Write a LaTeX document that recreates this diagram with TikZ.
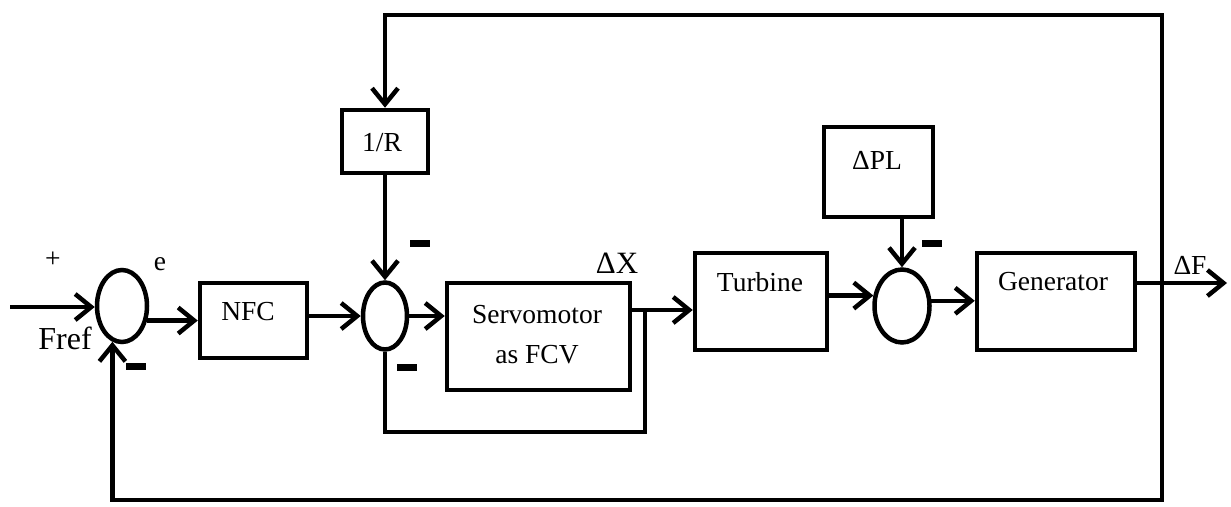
\documentclass[tikz,border=0pt]{standalone}
\usepackage{fontspec}
\setmainfont{Liberation Serif}
\usetikzlibrary{arrows.meta,shapes.geometric}
\begin{document}
\begin{tikzpicture}[x=1pt,y=1pt,
  line width=4.5pt,
  arr/.style={-{Straight Barb[length=16pt,width=26pt]}},
  blk/.style={draw,rectangle,inner sep=0pt},
  sumj/.style={draw,ellipse,inner sep=0pt},
  txt/.style={font=\fontsize{27.5}{40}\selectfont,inner sep=0pt},
  bar/.style={fill,rectangle,minimum width=20pt,minimum height=7pt,inner sep=0pt,draw=none}]
\useasboundingbox (0,0) rectangle (1231,-506);
% blocks
\node[sumj,minimum width=50pt,minimum height=72pt] (s1) at (122,-306) {};
\node[blk,minimum width=107pt,minimum height=75pt] (nfc) at (253.5,-320.5) {};
\node[txt] (nfct) at (248,-312) {NFC};
\node[sumj,minimum width=44pt,minimum height=67pt] (s2) at (385,-316) {};
\node[blk,minimum width=86pt,minimum height=63pt] (rb) at (385,-141.5) {};
\node[txt] (rbt) at (382,-143) {1/R};
\node[blk,minimum width=183pt,minimum height=107pt] (servo) at (538.5,-336.5) {};
\node[txt,align=center] (servot) at (537,-335) {Servomotor\\as FCV};
\node[blk,minimum width=132pt,minimum height=97pt] (turb) at (761,-301.5) {};
\node[txt] (turbt) at (760,-282) {Turbine};
\node[sumj,minimum width=55pt,minimum height=73pt] (s3) at (902,-306) {};
\node[blk,minimum width=109pt,minimum height=90pt] (pl) at (878.5,-172) {};
\node[txt] (plt) at (877,-160) {ΔPL};
\node[blk,minimum width=158pt,minimum height=97pt] (gen) at (1056,-301.5) {};
\node[txt] (gent) at (1053,-282) {Generator};
% labels
\node[txt] (plus) at (53,-260) {+};
\node[txt] (elab) at (160,-264) {e};
\node[txt,font=\fontsize{32}{36}\selectfont] (fref) at (65,-338) {Fref};
\node[txt,font=\fontsize{31}{36}\selectfont] (dx) at (617,-263) {ΔX};
\node[txt] (df) at (1190,-265) {ΔF};
% minus bars
\node[bar] (m1) at (136,-366) {};
\node[bar] (m2) at (420,-243) {};
\node[bar] (m3) at (407,-367) {};
\node[bar] (m4) at (932,-243) {};
% coordinates
\coordinate (in) at (10,-307);
\coordinate (jout) at (1162,-283);
\coordinate (outend) at (1227,-283);
\coordinate (tr) at (1162,-15);
\coordinate (br) at (1162,-500);
\coordinate (sj) at (645,-310);
\coordinate (ib) at (645,-432);
% connectors
\draw[arr] (in) -- (in -| s1.west);
\draw[arr] (s1.-30) -- (s1.-30 -| nfc.west);
\draw[arr] (nfc.east |- s2.west) -- (s2.west);
\draw[arr] (s2.east) -- (s2.east -| servo.west);
\draw[arr] (servo.east |- sj) -- (sj -| turb.west);
\draw (sj) -- (ib) -| (s2.south);
\draw[arr] (s3.160 -| turb.east) -- (s3.160);
\draw[arr] (pl.south -| s3.north) -- (s3.north);
\draw[arr] (s3.10) -- (s3.10 -| gen.west);
\draw[arr] (gen.east |- jout) -- (outend);
\draw[arr] (jout) -- (tr) -| (rb.north);
\draw[arr] (rb.south) -- (s2.north);
\draw[arr] (jout) -- (br) -| (s1.255);
\end{tikzpicture}
\end{document}
